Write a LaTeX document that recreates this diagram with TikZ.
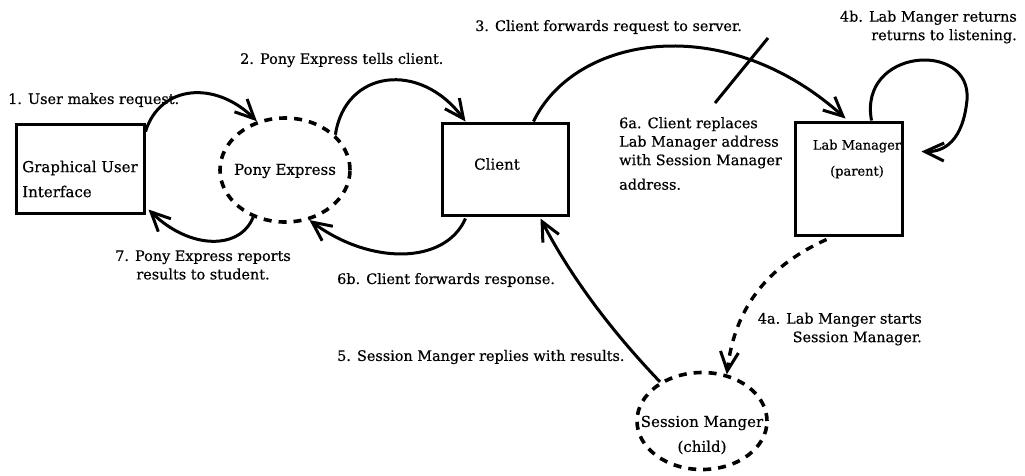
\documentclass[tikz,border=0pt]{standalone}
\usepackage{fontspec}
\setmainfont{DejaVu Serif}
\newfontfamily\labelfont[FakeBold=0.5]{DejaVu Serif}
\usetikzlibrary{arrows.meta,calc,shapes.geometric}

\begin{document}
\begin{tikzpicture}[x=1pt,y=-1pt,
  box/.style={draw, rectangle, line width=3pt, inner sep=0pt},
  proc/.style={draw, ellipse, line width=3.6pt, dash pattern=on 8pt off 7pt, inner sep=0pt},
  flow/.style={line width=3pt, -{Straight Barb[length=19pt,width=18pt,line width=3pt]}},
  spawn/.style={flow, dash pattern=on 8pt off 7pt, line width=3.4pt},
  lbl/.style={font=\labelfont\fontsize{14.4}{18.5}\selectfont, inner sep=0pt},
  inlbl/.style={font=\labelfont\fontsize{15}{25}\selectfont, inner sep=0pt},
]
\useasboundingbox (0,0) rectangle (1025,475);

% processes
\node[box, minimum width=128pt, minimum height=89pt] (gui) at (80,168.5) {};
\node[inlbl, align=left] (guitext) at (80,179) {Graphical User\\Interface};

\node[proc, minimum width=130pt, minimum height=104pt] (pony) at (285,170) {};
\node[inlbl] (ponytext) at (285,171) {Pony Express};

\node[box, minimum width=126pt, minimum height=92pt] (client) at (505,169) {};
\node[inlbl] (clienttext) at (497,164) {Client};

\node[box, minimum width=107pt, minimum height=113pt] (lab) at (848.5,178.5) {};
\node[inlbl, font=\labelfont\fontsize{13}{26}\selectfont, align=center] (labtext) at (857,159) {Lab Manager\\(parent)};

\node[proc, minimum width=130pt, minimum height=97pt] (session) at (702,421) {};
\node[inlbl, align=center] (sessiontext) at (702,435) {Session Manger\\(child)};

% 1. request to Pony Express
\draw[flow] ($(gui.north east)+(0,9)$) .. controls (160,85) and (215,80) .. (pony.120);
% 2. Pony Express to client
\draw[flow] (pony.35) .. controls (345,70) and (420,60) .. ($(client.north west)+(25,0)$);
% 3. client to Lab Manager
\draw[flow] ($(client.north west)+(93,0)$) .. controls (575,35) and (725,10) .. ($(lab.north west)+(52,-2)$);
% crossing-out stroke
\coordinate (xa) at (768,38);
\coordinate (xb) at (715,103);
\draw[line width=3pt] (xa) -- (xb);
% 4b. Lab Manager back to listening
\draw[flow] ($(lab.north west)+(78,0)$) .. controls (858,48) and (972,40) .. (967,100)
  .. controls (963,140) and (945,152) .. ($(lab.north east)+(18,31)$);
% 4a. Lab Manager spawns Session Manager
\draw[spawn] ($(lab.south west)+(33,3)$) .. controls (770,265) and (735,305) .. (session.62);
% 5. Session Manager replies to client
\draw[flow] (session.137) .. controls (620,340) and (575,285) .. ($(client.south west)+(100,2)$);
% 6b. client forwards response
\draw[flow] ($(client.south west)+(25,2)$) .. controls (445,265) and (370,265) .. (pony.-64);
% 7. Pony Express reports to the user
\draw[flow] (pony.-124) .. controls (240,250) and (190,250) .. ($(gui.south east)+(3,-5)$);

% step labels
\node[lbl, anchor=west] (l1) at (8,100) {1. User makes request.};
\node[lbl, anchor=west] (l2) at (240,60) {2. Pony Express tells client.};
\node[lbl, anchor=west] (l3) at (475,27) {3. Client forwards request to server.};
\node[lbl, anchor=east, align=right] (l4b) at (1017,27) {4b. Lab Manger returns\\returns to listening.};
\node[lbl, anchor=north west, align=left] (l6a) at (619,117) {6a. Client replaces\\Lab Manager address\\with Session Manager\\[6pt]address.};
\node[lbl, align=center] (l7) at (203,265) {7. Pony Express reports\\results to student.};
\node[lbl, anchor=west] (l6b) at (337,280) {6b. Client forwards response.};
\node[lbl, anchor=west] (l5) at (337,357) {5. Session Manger replies with results.};
\node[lbl, anchor=east, align=right] (l4a) at (922,329) {4a. Lab Manger starts\\Session Manager.};
\end{tikzpicture}
\end{document}
